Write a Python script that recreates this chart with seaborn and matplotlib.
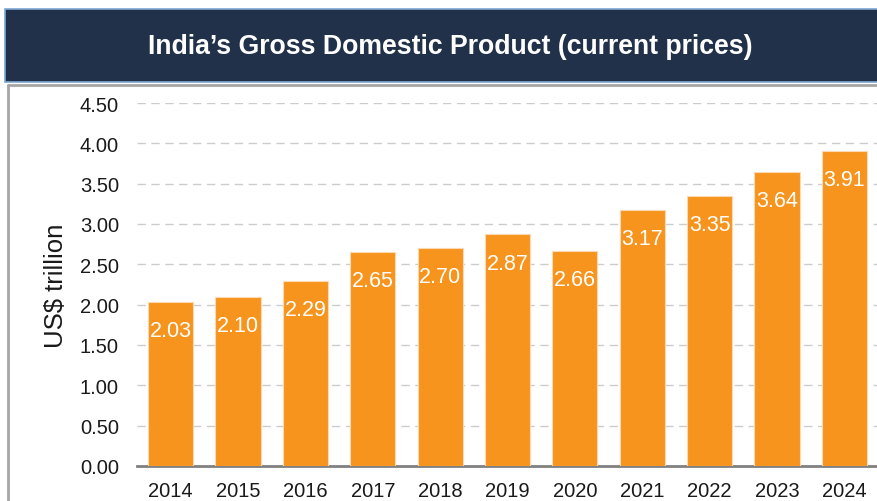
import matplotlib
matplotlib.use("Agg")
import matplotlib.pyplot as plt
import seaborn as sns
import pandas as pd
from matplotlib.patches import Rectangle
from matplotlib.lines import Line2D

years = ["2014", "2015", "2016", "2017", "2018", "2019", "2020", "2021", "2022", "2023", "2024"]
gdp = [2.03, 2.10, 2.29, 2.65, 2.70, 2.87, 2.66, 3.17, 3.35, 3.64, 3.91]
yticks = [0.0, 0.5, 1.0, 1.5, 2.0, 2.5, 3.0, 3.5, 4.0, 4.5]
title = "India\u2019s Gross Domestic Product (current prices)"
ylabel = "US$ trillion"

sns.set_theme(style="white")
plt.rcParams["font.family"] = ["Liberation Sans", "DejaVu Sans"]

W, H = 878, 502
fig = plt.figure(figsize=(W / 100, H / 100), dpi=100)
fig.patch.set_facecolor("white")

# Banner
fig.patches.append(Rectangle((5 / W, 1 - 83 / H), (W - 5) / W, 73 / H, transform=fig.transFigure,
                             facecolor="#22314a", edgecolor="#7fa7d3", linewidth=1.2, zorder=0))
fig.text(450 / W, 1 - 47 / H, title, color="white", fontsize=19.2, fontweight="bold",
         ha="center", va="center")
# Panel border
fig.lines.append(Line2D([8 / W, 8 / W], [0, 1 - 86 / H], transform=fig.transFigure, color="#a6a6a6", lw=2))
fig.lines.append(Line2D([8 / W, 1], [1 - 86 / H, 1 - 86 / H], transform=fig.transFigure, color="#a6a6a6", lw=2))

ax = fig.add_axes([137 / W, 1 - 467 / H, (W - 137) / W, (467 - 104) / H])
df = pd.DataFrame({"year": years, "gdp": gdp})
sns.barplot(data=df, x="year", y="gdp", color="#f7941d", saturation=1, width=0.67,
            edgecolor="#fcd9b0", linewidth=0.8, ax=ax, zorder=3)

ax.set_ylim(0, 4.5)
ax.set_xlim(-0.5, len(years) - 0.5)
ax.set_yticks(yticks)
ax.set_yticklabels([f"{t:.2f}" for t in yticks], fontsize=14.5, color="#1a1a1a")
ax.tick_params(axis="y", length=0, pad=13)
ax.tick_params(axis="x", length=0, labelsize=14.5, labelcolor="#1a1a1a", pad=11)
ax.set_xticks([i - 0.5 for i in range(len(years) + 1)], minor=True)
ax.tick_params(axis="x", which="minor", length=6, width=1.8, color="#808080", direction="out")
ax.set_xlabel("")
ax.set_ylabel(ylabel, fontsize=18.5, color="#1a1a1a")
ax.yaxis.set_label_coords(-(137 - 68) / (W - 137), 0.5)

for s in ["top", "right", "left"]:
    ax.spines[s].set_visible(False)
ax.spines["bottom"].set_color("#808080")
ax.spines["bottom"].set_linewidth(2)
ax.set_axisbelow(True)
for t in yticks[1:]:
    ax.axhline(t, color="#cccccc", lw=1, ls=(0, (6, 4)), zorder=1)

for i, v in enumerate(gdp):
    ax.annotate(f"{v:.2f}", (i, v), xytext=(0, -13), textcoords="offset points",
                ha="center", va="top", color="white", fontsize=15.5, zorder=4)

fig.savefig("out.png", dpi=100)
